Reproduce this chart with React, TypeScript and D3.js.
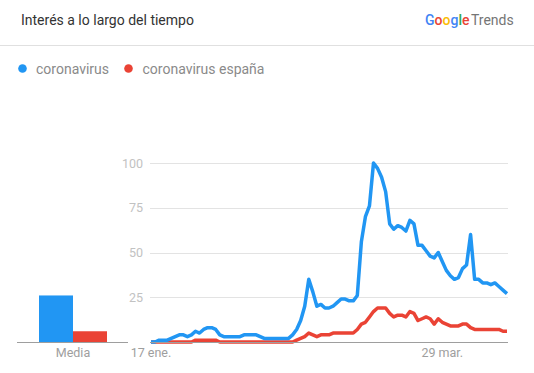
import React from "react";
import * as d3 from "d3";

// series: daily interest, 17 ene. -> 14 abr. 2020
const seriesNames = ["coronavirus", "coronavirus españa"];
const seriesColors = ["#2196f3", "#ea4335"];

const coronavirus = [
  0, 0, 1, 1, 1, 2, 3, 4, 4, 3, 4, 6, 5, 7, 8, 8, 7, 4, 3, 3,
  3, 3, 3, 4, 4, 4, 4, 3, 2, 2, 2, 2, 2, 2, 2, 4, 7, 12, 20, 35,
  28, 20, 21, 19, 19, 20, 22, 24, 24, 23, 23, 26, 56, 70, 76, 100, 97, 92, 84, 66,
  63, 65, 64, 62, 68, 66, 54, 54, 51, 48, 47, 50, 45, 40, 37, 35, 36, 41, 43, 60,
  35, 35, 33, 33, 32, 33, 31, 29, 27,
];

const coronavirusEspana = [
  0, 0, 0, 0, 0, 0, 0, 0, 0, 0, 0, 1, 1, 1, 1, 1, 1, 0, 0, 0,
  0, 0, 0, 0, 0, 0, 0, 0, 0, 0, 0, 0, 0, 0, 0, 0, 1, 2, 3, 5,
  4, 3, 4, 4, 4, 5, 5, 5, 5, 5, 5, 7, 10, 11, 14, 17, 19, 19, 19, 16,
  14, 15, 15, 14, 17, 16, 12, 13, 14, 13, 10, 13, 11, 10, 9, 9, 9, 10, 10, 8,
  7, 7, 7, 7, 7, 7, 7, 6, 6,
];

const averages = [26, 6];
const yTicks = [25, 50, 75, 100];
const xTickDates = [new Date(2020, 0, 17), new Date(2020, 2, 29)];
const xTickLabels = ["17 ene.", "29 mar."];
const startDate = new Date(2020, 0, 17);

const W = 534;
const H = 373;

const App: React.FC = () => {
  const dates = coronavirus.map((_, i) => d3.timeDay.offset(startDate, i));

  const y = d3.scaleLinear().domain([0, 100]).range([342, 163]);
  const x = d3
    .scaleTime()
    .domain([startDate, dates[dates.length - 1]])
    .range([151, 507]);
  const xBar = d3.scaleBand().domain(seriesNames).range([39, 107]).padding(0);

  const line = d3
    .line<number>()
    .x((_, i) => x(dates[i]))
    .y((d) => y(d))
    .curve(d3.curveLinear);

  const font = "Roboto, 'Noto Sans', sans-serif";

  return (
    <div style={{ position: "absolute", left: 0, top: 0 }}>
      <svg width={W} height={H} style={{ display: "block", background: "#fff" }}>
        {/* header */}
        <text x={21} y={25} fontFamily={font} fontSize={14} fill="#333">
          Interés a lo largo del tiempo
        </text>
        <text x={425} y={25} fontFamily={font} fontSize={14} fontWeight={500}>
          <tspan fill="#4285f4">G</tspan>
          <tspan fill="#ea4335">o</tspan>
          <tspan fill="#fbbc05">o</tspan>
          <tspan fill="#4285f4">g</tspan>
          <tspan fill="#34a853">l</tspan>
          <tspan fill="#ea4335">e</tspan>
          <tspan fill="#757575" fontWeight={400} dx={1.5}>Trends</tspan>
        </text>
        <line x1={0} x2={W} y1={45.5} y2={45.5} stroke="#e0e0e0" />

        {/* legend */}
        <circle cx={22.5} cy={68.5} r={4.3} fill={seriesColors[0]} />
        <text x={36} y={73.5} fontFamily={font} fontSize={14} fill="#8a8a8a">
          {seriesNames[0]}
        </text>
        <circle cx={128.5} cy={68.5} r={4.3} fill={seriesColors[1]} />
        <text x={142.5} y={73.5} fontFamily={font} fontSize={14} fill="#8a8a8a">
          {seriesNames[1]}
        </text>

        {/* grid */}
        {yTicks.map((t) => (
          <g key={t}>
            <line x1={150} x2={508} y1={Math.round(y(t)) + 0.5} y2={Math.round(y(t)) + 0.5} stroke="#e3e3e3" />
            <text
              x={143}
              y={y(t) + 4.5}
              textAnchor="end"
              fontFamily={font}
              fontSize={12.5}
              fill="#c2c2c2"
            >
              {t}
            </text>
          </g>
        ))}

        {/* media bars */}
        {averages.map((v, i) => (
          <rect
            key={seriesNames[i]}
            x={xBar(seriesNames[i])}
            y={y(v)}
            width={xBar.bandwidth()}
            height={y(0) - y(v)}
            fill={seriesColors[i]}
          />
        ))}
        <line x1={17} x2={128} y1={342.5} y2={342.5} stroke="#9e9e9e" />
        <text x={73} y={357} textAnchor="middle" fontFamily={font} fontSize={12.5} fill="#9e9e9e">
          Media
        </text>

        {/* lines */}
        <path d={line(coronavirusEspana) ?? ""} fill="none" stroke={seriesColors[1]} strokeWidth={3.5} strokeLinejoin="round" />
        <path d={line(coronavirus) ?? ""} fill="none" stroke={seriesColors[0]} strokeWidth={3.5} strokeLinejoin="round" />

        {/* x axis */}
        <line x1={150} x2={508} y1={342.5} y2={342.5} stroke="#9e9e9e" />
        {xTickDates.map((d, i) => (
          <text
            key={xTickLabels[i]}
            x={x(d)}
            y={357}
            textAnchor="middle"
            fontFamily={font}
            fontSize={12.5}
            fill="#9e9e9e"
          >
            {xTickLabels[i]}
          </text>
        ))}
      </svg>
    </div>
  );
};

export default App;
